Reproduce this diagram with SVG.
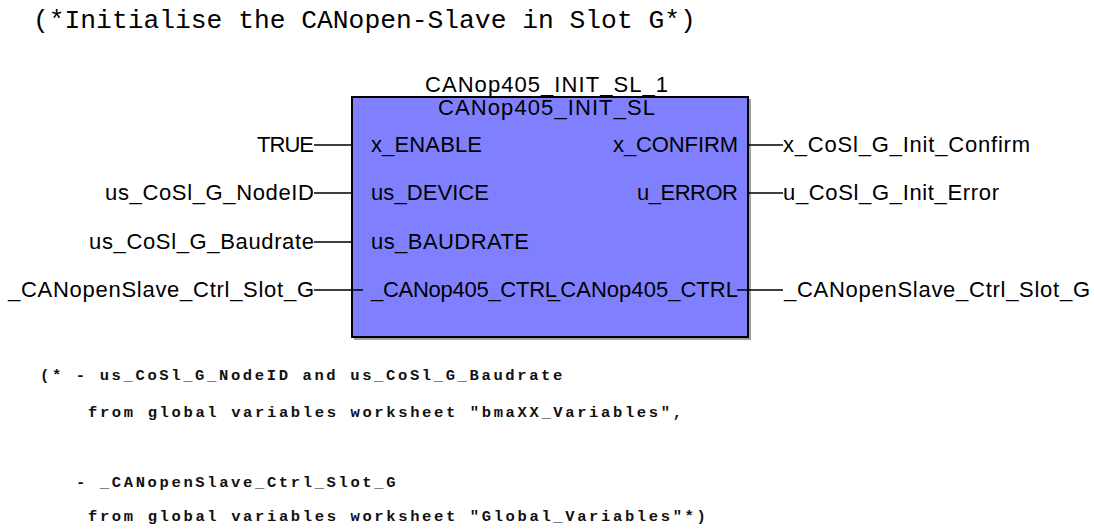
<svg xmlns="http://www.w3.org/2000/svg" width="1094" height="529" viewBox="0 0 1094 529">
  <style>
    .pin { font-family: "Liberation Sans", Arial, sans-serif; font-size: 22px; fill: #000; }
    .var { font-family: "Liberation Sans", Arial, sans-serif; font-size: 22px; fill: #000; }
    .title { font-family: "Liberation Mono", "Courier New", monospace; font-size: 26.3px; fill: #000; }
    .note { font-family: "Liberation Mono", "Courier New", monospace; font-size: 15.5px; font-weight: 600; letter-spacing: 2.63px; fill: #111; }
    .wire { stroke: #000; stroke-width: 1.3; fill: none; }
  </style>

  <!-- heading comment -->
  <text class="title" x="33" y="28">(*Initialise the CANopen-Slave in Slot G*)</text>

  <!-- function block instance -->
  <g id="fb_init">
    <rect x="354" y="99" width="397" height="241" fill="#a0a0a0"/>
    <rect x="352" y="97" width="396" height="240" fill="#8080ff" stroke="#000" stroke-width="2"/>
    <text class="pin" x="546.5" y="92" text-anchor="middle" textLength="243">CANop405_INIT_SL_1</text>
    <text class="pin" x="546.5" y="115" text-anchor="middle" textLength="217">CANop405_INIT_SL</text>
    <text class="pin" x="371" y="152" textLength="111">x_ENABLE</text>
    <text class="pin" x="371" y="200" textLength="118">us_DEVICE</text>
    <text class="pin" x="371" y="249" textLength="158">us_BAUDRATE</text>
    <text class="pin" x="371" y="297" textLength="186">_CANop405_CTRL</text>
    <text class="pin" x="738" y="152" text-anchor="end" textLength="125">x_CONFIRM</text>
    <text class="pin" x="738" y="200" text-anchor="end" textLength="101">u_ERROR</text>
    <text class="pin" x="738" y="297" text-anchor="end" textLength="190">_CANop405_CTRL</text>
  </g>

  <!-- input variables -->
  <g id="in_enable"><text class="var" x="314" y="152" text-anchor="end" textLength="57">TRUE</text></g>
  <g id="in_nodeid"><text class="var" x="314" y="200" text-anchor="end" textLength="209">us_CoSl_G_NodeID</text></g>
  <g id="in_baudrate"><text class="var" x="314" y="249" text-anchor="end" textLength="225">us_CoSl_G_Baudrate</text></g>
  <g id="in_ctrl"><text class="var" x="314" y="297" text-anchor="end" textLength="306">_CANopenSlave_Ctrl_Slot_G</text></g>

  <!-- output variables -->
  <g id="out_confirm"><text class="var" x="783" y="152" textLength="247">x_CoSl_G_Init_Confirm</text></g>
  <g id="out_error"><text class="var" x="783" y="200" textLength="216">u_CoSl_G_Init_Error</text></g>
  <g id="out_ctrl"><text class="var" x="784" y="297" textLength="306">_CANopenSlave_Ctrl_Slot_G</text></g>

  <!-- wiring -->
  <g id="connectors">
    <line class="wire" x1="314" y1="145" x2="352" y2="145"/>
    <line class="wire" x1="314" y1="193" x2="352" y2="193"/>
    <line class="wire" x1="314" y1="242" x2="352" y2="242"/>
    <line class="wire" x1="314" y1="290" x2="363" y2="290"/>
    <line class="wire" x1="749" y1="145" x2="783" y2="145"/>
    <line class="wire" x1="749" y1="193" x2="783" y2="193"/>
    <line class="wire" x1="737" y1="290" x2="783" y2="290"/>
  </g>

  <!-- explanatory comment -->
  <text class="note" x="40" y="380">(* - us_CoSl_G_NodeID and us_CoSl_G_Baudrate</text>
  <text class="note" x="88" y="417">from global variables worksheet "bmaXX_Variables",</text>
  <text class="note" x="76" y="487">- _CANopenSlave_Ctrl_Slot_G</text>
  <text class="note" x="88" y="521">from global variables worksheet "Global_Variables"*)</text>
</svg>
